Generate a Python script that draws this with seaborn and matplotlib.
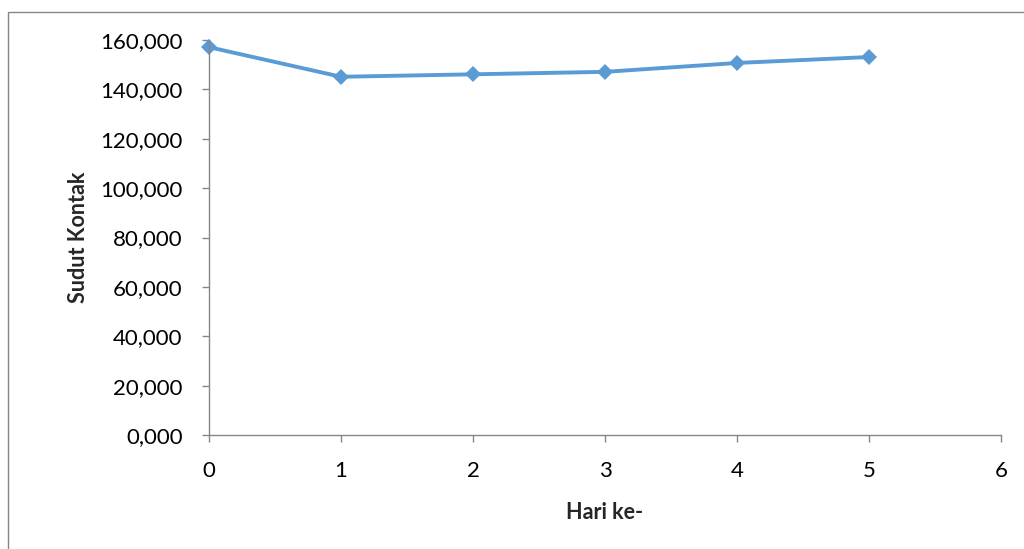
import matplotlib
matplotlib.use("Agg")
import matplotlib.pyplot as plt
import matplotlib.ticker as mticker
from matplotlib.patches import Rectangle
import seaborn as sns
import pandas as pd

# ----------------------------------------------------------
# data
# ----------------------------------------------------------
hari = [0, 1, 2, 3, 4, 5]
sudut = [157.1, 145.1, 146.1, 147.1, 150.7, 153.1]
x_ticks = [0, 1, 2, 3, 4, 5, 6]
y_ticks = [0, 20, 40, 60, 80, 100, 120, 140, 160]

df = pd.DataFrame({"Hari ke-": hari, "Sudut Kontak": sudut})

# ----------------------------------------------------------
# style
# ----------------------------------------------------------
sns.set_style("white")
plt.rcParams["font.family"] = ["Lato", "DejaVu Sans"]
axis_grey = "#868686"

fig = plt.figure(figsize=(10.24, 5.49), dpi=100)
ax = fig.add_axes([209 / 1024, 1 - 435 / 549, 792 / 1024, 395 / 549])

sns.lineplot(data=df, x="Hari ke-", y="Sudut Kontak", ax=ax, color="#5B9BD5",
             linewidth=2.8, marker="D", markersize=8.5, markeredgewidth=0,
             clip_on=False)

ax.set_xlim(0, 6)
ax.set_ylim(0, 160)
ax.set_xticks(x_ticks)
ax.set_yticks(y_ticks)
ax.yaxis.set_major_formatter(mticker.FuncFormatter(lambda v, p: f"{v:.3f}".replace(".", ",")))

for side in ["top", "right"]:
    ax.spines[side].set_visible(False)
for side in ["left", "bottom"]:
    ax.spines[side].set_color(axis_grey)
    ax.spines[side].set_linewidth(1.0)
ax.tick_params(axis="both", direction="out", length=5, width=1.0, color=axis_grey,
               labelsize=16, labelcolor="black", left=True, bottom=True)
ax.tick_params(axis="x", pad=14)
ax.tick_params(axis="y", pad=14)

ax.set_xlabel("Hari ke-", fontsize=15.5, fontweight="bold", labelpad=15)
ax.set_ylabel("Sudut Kontak", fontsize=15.5, fontweight="bold", labelpad=8)

# outer chart frame
fig.patches.append(Rectangle((8 / 1024, -0.01), 1.02, 1 - 12 / 549 + 0.01,
                             transform=fig.transFigure, fill=False,
                             edgecolor=axis_grey, linewidth=1.0))

plt.savefig("out.png", dpi=100)
